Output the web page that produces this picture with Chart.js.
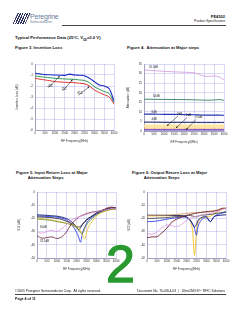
<!DOCTYPE html>
<html>
<head>
<meta charset="utf-8">
<script src="https://cdn.jsdelivr.net/npm/chart.js@4.4.1/dist/chart.umd.min.js"></script>
<style>
  html, body { margin:0; padding:0; background:#fff; }
  body { width:240px; height:310px; position:relative; overflow:hidden; font-family:'Liberation Sans', Arial, sans-serif; color:#111; }
  .t { position:absolute; white-space:nowrap; line-height:1; }
  .box { position:absolute; }
  canvas { display:block; }
</style>
</head>
<body>

<!-- header -->
<div class="box" style="left:15px;top:13px;width:13px;height:11px;transform:skewX(-25deg);
  background:repeating-linear-gradient(90deg,#2b2f5a 0 1.3px,#fff 1.3px 2.4px);"></div>
<div class="t" style="left:30px;top:13px;font-size:7px;color:#6a7c99;letter-spacing:-0.2px;">Peregrine</div>
<div class="t" style="left:30px;top:20.5px;font-size:3.3px;color:#6a7c99;">Semiconductor</div>
<div class="t" style="right:15px;top:15px;font-size:4px;font-weight:bold;">PE4302</div>
<div class="t" style="right:15px;top:20px;font-size:3.3px;">Product Specification</div>
<div class="box" style="left:62px;top:24.5px;width:164px;height:0.6px;background:#444;"></div>

<div class="t" style="left:15px;top:36px;font-size:4.2px;font-weight:bold;">Typical Performance Data (25°C, V<sub style="font-size:2.6px">DD</sub>=3.0 V)</div>
<div class="t" style="left:15px;top:45.5px;font-size:4.2px;font-weight:bold;">Figure 3. Insertion Loss</div>
<div class="t" style="left:127px;top:45.5px;font-size:4.2px;font-weight:bold;">Figure 4.&nbsp; Attenuation at Major steps</div>

<div class="t" style="left:16px;top:171px;font-size:4.2px;font-weight:bold;line-height:1.1;">Figure 5. Input Return Loss at Major<br>&nbsp;&nbsp;&nbsp;&nbsp;&nbsp;&nbsp;&nbsp;&nbsp;&nbsp;&nbsp;Attenuation Steps</div>
<div class="t" style="left:132px;top:171px;font-size:4.2px;font-weight:bold;line-height:1.1;">Figure 6. Output Return Loss at Major<br>&nbsp;&nbsp;&nbsp;&nbsp;&nbsp;&nbsp;&nbsp;&nbsp;&nbsp;&nbsp;Attenuation Steps</div>

<div class="box" style="left:14px;top:60px;"><canvas id="c1" width="105" height="84"></canvas></div>
<div class="box" style="left:125px;top:60px;"><canvas id="c2" width="104" height="85"></canvas></div>
<div class="box" style="left:16px;top:188px;"><canvas id="c3" width="105" height="84"></canvas></div>
<div class="box" style="left:126px;top:188px;"><canvas id="c4" width="105" height="84"></canvas></div>

<div class="t" style="left:106px;top:238px;font-size:52px;color:#2a9a30;-webkit-text-stroke:1.3px #2a9a30;">2</div>

<!-- footer -->
<div class="t" style="left:15px;top:290px;font-size:3.3px;">©2005 Peregrine Semiconductor Corp.&nbsp; All rights reserved.</div>
<div class="t" style="right:15px;top:290px;font-size:3.3px;">Document No. 70-0054-03 &nbsp;│&nbsp; UltraCMOS™ RFIC Solutions</div>
<div class="box" style="left:15px;top:294px;width:211px;height:0.6px;background:#444;"></div>
<div class="t" style="left:15px;top:297.5px;font-size:3.6px;font-weight:bold;">Page 4 of 11</div>

<script>
// ── Figure 3: insertion loss ──────────────────────────────
const F1      = [10, 250, 500, 750, 1000, 1250, 1500, 1750, 2000, 2250, 2500, 2750, 3000, 3250, 3500, 3750, 4000];
const IL_M40  = [-0.85, -0.9, -0.97, -0.98, -1.0, -1.02, -1.03, -0.92, -1.0, -1.02, -1.06, -1.3, -1.6, -1.9, -2.0, -2.25, -3.4];
const IL_25   = [-1.09, -1.15, -1.2, -1.25, -1.3, -1.33, -1.36, -1.38, -1.4, -1.45, -1.5, -1.7, -2.06, -2.3, -2.5, -2.7, -3.5];
const IL_85   = [-1.3, -1.38, -1.45, -1.52, -1.6, -1.63, -1.66, -1.68, -1.7, -1.75, -1.8, -2.0, -2.36, -2.6, -2.8, -3.0, -3.67];
const IL_TICKS = [0, -1, -2, -3, -4, -5, -6];

// ── Figure 4: attenuation at major steps ──────────────────
const F2       = [10, 500, 1000, 1500, 2000, 2500, 2750, 3000, 3250, 3500, 3750, 4000];
const ATT_31_5 = [31.9, 31.5, 31.2, 30.9, 30.7, 30.4, 29.6, 28.7, 28.5, 28.8, 28.2, 26.6];
const ATT_16   = [16.6, 16.55, 16.5, 16.45, 16.4, 16.3, 16.2, 16.1, 16.1, 16.2, 16.4, 16.0];
const ATT_8    = [8.8, 8.8, 8.7, 8.7, 8.6, 8.5, 8.4, 8.3, 8.3, 8.3, 8.3, 8.2];
const ATT_4    = [4.6, 4.6, 4.5, 4.5, 4.5, 4.5, 4.4, 4.4, 4.4, 4.4, 4.4, 4.4];
const ATT_2    = [2.6, 2.6, 2.6, 2.6, 2.6, 2.6, 2.6, 2.6, 2.6, 2.6, 2.6, 2.6];
const ATT_1    = [1.5, 1.5, 1.5, 1.5, 1.5, 1.5, 1.5, 1.5, 1.5, 1.5, 1.5, 1.5];
const ATT_0_5  = [0.6, 0.6, 0.6, 0.6, 0.6, 0.6, 0.6, 0.6, 0.6, 0.6, 0.6, 0.6];
const ATT_TICKS = [0, 5, 10, 15, 20, 25, 30, 35];

// ── Figures 5 & 6: return loss ────────────────────────────
const F3 = [10, 250, 500, 750, 1000, 1250, 1500, 1750, 2000, 2100, 2200, 2300, 2400, 2500, 2600, 2800, 3000, 3200, 3400, 3600, 3800, 4000];
const S11_BLUE   = [-18.1, -18.3, -18.5, -18.7, -19, -19.8, -21.3, -24.5, -30.5, -34, -38, -31, -27, -24, -21.5, -19, -16.8, -15.2, -13.9, -13.1, -12.7, -12.8];
const S11_NAVY   = [-17.3, -17.5, -17.7, -18, -18.3, -19, -20.2, -22.5, -26.5, -28.8, -27, -24.5, -22.5, -21, -19.8, -18, -16, -14.5, -13.3, -12.5, -12, -12.2];
const S11_BLACK  = [-18.9, -19, -19.2, -19.5, -20, -20.8, -22.3, -23.8, -26.3, -26.5, -25.8, -24.5, -23, -21.5, -20.2, -18.2, -16, -14.6, -13.5, -12.6, -12.1, -12];
const S11_YELLOW = [-19.9, -20.2, -20.6, -21.2, -22, -22.8, -23.8, -24.7, -26, -27, -29.5, -32.5, -35.7, -31, -26.5, -22, -18.5, -16.2, -14.8, -13.9, -13.3, -13];
const S11_OLIVE  = [-20.5, -20.8, -21.2, -21.7, -22.4, -23, -23.8, -25, -27, -28.5, -31, -31.5, -28, -25, -23, -20, -17.5, -15.6, -14.4, -13.5, -13, -12.9];
const S11_PINK   = [-30.1, -31.2, -30, -29, -30, -28, -24.5, -21.2, -19.5, -18.8, -18.4, -18, -17.5, -17, -16.4, -15.6, -15, -14.3, -13.6, -13, -12.5, -12.4];
const S11_BROWN  = [-33.2, -35, -34.5, -34, -35.2, -34, -30, -24, -20.5, -19, -18.3, -17.6, -17, -16.4, -15.9, -15.2, -14.7, -14.2, -13.2, -11.8, -11.5, -12.2];

const S22_YELLOW = [-18.1, -18.1, -18.1, -18, -18, -17.9, -18, -18.4, -19, -19.8, -22, -29, -48, -31, -22, -19.5, -18.8, -18.4, -16.5, -14.8, -13.2, -12.2];
const S22_TAN    = [-17.9, -17.8, -17.7, -17.6, -17.5, -17.3, -17, -16.6, -16.2, -16, -15.9, -15.8, -15.7, -15.6, -15.5, -15.4, -15.3, -15, -14.3, -13.5, -12.5, -11.7];
const S22_NAVY   = [-17.6, -17.6, -17.6, -17.7, -17.7, -17.8, -17.8, -17.9, -18.8, -19.9, -21.5, -24, -26.5, -24.5, -21, -19, -18.6, -22.4, -18.5, -17.8, -17.5, -17.3];
const S22_BLUE   = [-22.4, -22.3, -22, -21.3, -20.6, -20, -19.4, -18.8, -19.2, -20.5, -22, -24.5, -27.5, -32.7, -25, -20.5, -19.5, -22.5, -18.5, -17, -16, -15.3];
const S22_BLACK  = [-20, -20, -19.8, -19.6, -19.4, -19, -18.6, -18.2, -17.8, -17.6, -17.8, -18.2, -18.6, -18.8, -18.2, -17.5, -17.3, -17, -16.5, -16, -15.5, -14.8];
const S22_PINK   = [-31.4, -32, -30.5, -27, -25, -25.5, -26.3, -24.5, -21.5, -20.5, -19.8, -19.2, -18.8, -18.4, -18, -17.3, -16.7, -16.2, -15.5, -14.5, -13.2, -12.2];
const S22_BROWN  = [-34.7, -34, -33.9, -31, -27.5, -23, -20.5, -19.1, -17.8, -17.4, -17, -16.6, -16.3, -16, -15.8, -15.3, -14.8, -14.6, -14.4, -13.8, -12.3, -12.8];
const RL_TICKS   = [0, -10, -20, -30, -40, -50];

const FREQ_TICKS = [0, 500, 1000, 1500, 2000, 2500, 3000, 3500, 4000];

const pts = (xs, ys) => xs.map((x, i) => ({ x, y: ys[i] }));
const ds  = (xs, ys, color, w) => ({ data: pts(xs, ys), borderColor: color, borderWidth: w || 0.8, pointRadius: 0, tension: 0.3, fill: false });

// little text labels with arrows, placed in data units
const notes = {
  id: 'notes',
  afterDatasetsDraw(chart, args, opts) {
    const c = chart.ctx, xs = chart.scales.x, ys = chart.scales.y;
    c.save();
    c.font = '2.8px "Liberation Sans", Arial';
    c.fillStyle = '#222'; c.strokeStyle = '#111'; c.lineWidth = 0.5;
    (opts.items || []).forEach(n => {
      const px = xs.getPixelForValue(n.x), py = ys.getPixelForValue(n.y);
      c.fillText(n.text, px, py);
      if (n.tx !== undefined) {
        const ax = xs.getPixelForValue(n.tx), ay = ys.getPixelForValue(n.ty);
        const sx = px + 1, sy = py + 1;
        c.beginPath(); c.moveTo(sx, sy); c.lineTo(ax, ay); c.stroke();
        const a = Math.atan2(ay - sy, ax - sx);
        c.beginPath();
        c.moveTo(ax, ay);
        c.lineTo(ax - 2 * Math.cos(a - 0.4), ay - 2 * Math.sin(a - 0.4));
        c.lineTo(ax - 2 * Math.cos(a + 0.4), ay - 2 * Math.sin(a + 0.4));
        c.closePath(); c.fillStyle = '#111'; c.fill(); c.fillStyle = '#222';
      }
    });
    c.restore();
  }
};

function makeChart(id, datasets, y, yTitle, yW, items) {
  const tickFont = { size: 3, family: 'Liberation Sans' };
  return new Chart(document.getElementById(id), {
    type: 'line',
    data: { datasets },
    plugins: [notes],
    options: {
      responsive: false, devicePixelRatio: 1, animation: false,
      layout: { padding: { top: 4, right: 4, left: 0, bottom: 0 } },
      plugins: { legend: { display: false }, tooltip: { enabled: false }, notes: { items } },
      scales: {
        x: {
          type: 'linear', min: 0, max: 4000,
          afterBuildTicks: s => { s.ticks = FREQ_TICKS.map(v => ({ value: v })); },
          ticks: { font: tickFont, color: '#333', padding: 1.5, maxRotation: 0, autoSkip: false, callback: v => String(v) },
          grid: { color: '#b4b4f0', lineWidth: 0.5, drawTicks: false },
          border: { color: '#7a7a9a', width: 0.6 },
          title: { display: true, text: 'RF Frequency(MHz)', font: { size: 3, family: 'Liberation Sans' }, color: '#333', padding: 1 },
          afterFit: s => { s.height = 14; }
        },
        y: {
          type: 'linear', min: y.min, max: y.max,
          afterBuildTicks: s => { s.ticks = y.ticks.map(v => ({ value: v })); },
          ticks: { font: tickFont, color: '#333', padding: 2, autoSkip: false, callback: v => String(v) },
          grid: { color: '#b4b4f0', lineWidth: 0.5, drawTicks: false },
          border: { color: '#7a7a9a', width: 0.6 },
          title: { display: true, text: yTitle, font: { size: 3, family: 'Liberation Sans' }, color: '#333', padding: 1 },
          afterFit: s => { s.width = yW; }
        }
      }
    }
  });
}

makeChart('c1', [
  ds(F1, IL_M40, '#1c2bc4', 1.1),
  ds(F1, IL_25,  '#2f9a55', 1.0),
  ds(F1, IL_85,  '#e0362e', 1.0)
], { min: -6, max: 0, ticks: IL_TICKS }, 'Insertion Loss (dB)', 21, [
  { text: '-40C', x: 620, y: -2.05, tx: 1250, ty: -1.1 },
  { text: '25C',  x: 1350, y: -2.35, tx: 1900, ty: -1.42 },
  { text: '85C',  x: 2150, y: -2.75, tx: 2750, ty: -2.05 }
]);

makeChart('c2', [
  ds(F2, ATT_31_5, '#d7a3dc', 0.9),
  ds(F2, ATT_16,   '#4a8a72', 1.0),
  ds(F2, ATT_8,    '#2a33b8', 1.2),
  ds(F2, ATT_4,    '#101050', 0.9),
  ds(F2, ATT_2,    '#ffe6a0', 3.0),
  ds(F2, ATT_1,    '#f0a040', 0.8),
  ds(F2, ATT_0_5,  '#5a2ab0', 1.2)
], { min: 0, max: 35, ticks: ATT_TICKS }, 'Attenuation (dB)', 19, [
  { text: '31.5dB', x: 250, y: 33 },
  { text: '16dB', x: 450, y: 17.6 },
  { text: '8dB',  x: 380, y: 9.6 },
  { text: '4dB',  x: 380, y: 5.6 },
  { text: '2dB',  x: 1650, y: 8.4, tx: 1150, ty: 2.7 },
  { text: '1dB',  x: 2100, y: 7.6, tx: 1600, ty: 1.6 },
  { text: '0.5dB', x: 2550, y: 6.6, tx: 2100, ty: 0.7 }
]);

const RL = { min: -50, max: 0, ticks: RL_TICKS };

makeChart('c3', [
  ds(F3, S11_PINK,   '#e090d8', 0.8),
  ds(F3, S11_BROWN,  '#6a1a2a', 0.8),
  ds(F3, S11_OLIVE,  '#6f8a2a', 0.8),
  ds(F3, S11_YELLOW, '#f0c020', 0.8),
  ds(F3, S11_BLACK,  '#202020', 0.8),
  ds(F3, S11_NAVY,   '#101870', 0.9),
  ds(F3, S11_BLUE,   '#3040e8', 0.9)
], RL, 'S11 (dB)', 21, [
  { text: '16dB',   x: 150, y: -27.5 },
  { text: '31.5dB', x: 150, y: -37.5 }
]);

makeChart('c4', [
  ds(F3, S22_PINK,   '#d898d8', 0.8),
  ds(F3, S22_BROWN,  '#6a1a2a', 0.9),
  ds(F3, S22_TAN,    '#c89050', 0.8),
  ds(F3, S22_BLACK,  '#303030', 0.8),
  ds(F3, S22_NAVY,   '#101870', 0.9),
  ds(F3, S22_BLUE,   '#3040e8', 0.9),
  ds(F3, S22_YELLOW, '#f0c020', 0.9)
], RL, 'S22 (dB)', 21, []);
</script>
</body>
</html>
